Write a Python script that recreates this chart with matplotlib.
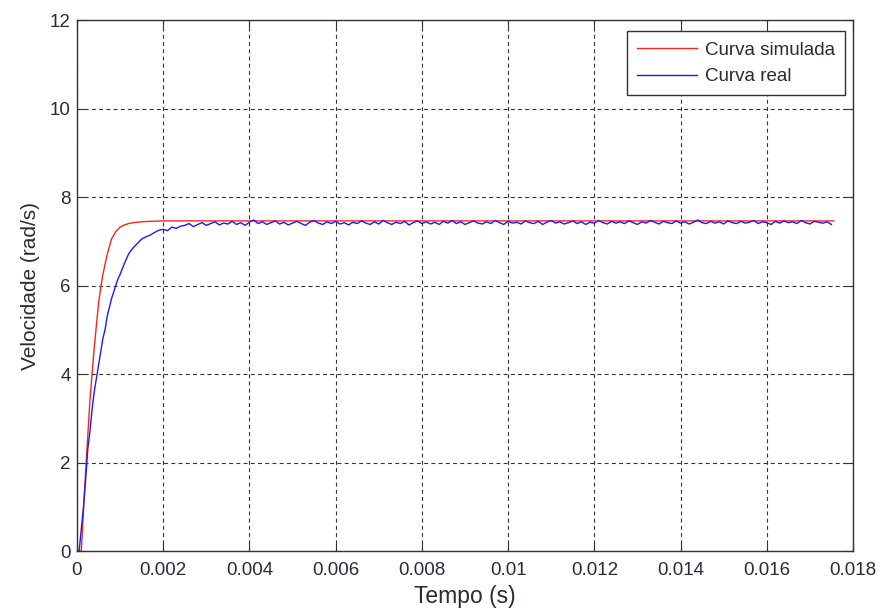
import numpy as np
import matplotlib
matplotlib.use("Agg")
import matplotlib.pyplot as plt

plt.rcParams["font.family"] = ["Liberation Sans", "DejaVu Sans"]

# Curva simulada
t_sim = [0, 0.0001, 0.00015, 0.0002, 0.00025, 0.0003, 0.00035, 0.0004, 0.00045,
         0.0005, 0.00055, 0.0006, 0.0007, 0.0008, 0.0009, 0.001, 0.0011, 0.0012,
         0.0013, 0.0014, 0.0015, 0.0017, 0.002, 0.0025, 0.01755]
v_sim = [0, 0, 0.9, 1.8, 2.6, 3.4, 4.0, 4.6, 5.1,
         5.6, 5.95, 6.25, 6.7, 7.05, 7.22, 7.32, 7.37, 7.40,
         7.42, 7.43, 7.44, 7.45, 7.46, 7.46, 7.46]

# Curva real - subida
t_real_subida = [0, 0.00005, 0.0001, 0.00015, 0.0002, 0.00025, 0.0003, 0.00035, 0.0004,
                 0.00045, 0.0005, 0.00055, 0.0006, 0.00065, 0.0007, 0.00075, 0.0008,
                 0.00085, 0.0009, 0.00095, 0.001, 0.0011, 0.0012, 0.0013, 0.0014,
                 0.0015, 0.0016, 0.0017, 0.0018, 0.0019, 0.002, 0.0021, 0.0022,
                 0.0023, 0.0024]
v_real_subida = [0, 0, 0.5, 1.0, 1.6, 2.3, 2.7, 3.2, 3.6,
                 3.9, 4.2, 4.5, 4.8, 5.0, 5.3, 5.5, 5.7,
                 5.85, 6.0, 6.15, 6.25, 6.5, 6.72, 6.85, 6.95,
                 7.05, 7.1, 7.14, 7.2, 7.25, 7.27, 7.24, 7.32,
                 7.29, 7.34]

# Curva real - regime permanente (amostras a cada 0.0001 s a partir de 0.0025 s)
t0_regime = 0.0025
dt_regime = 0.0001
v_real_regime = [
    7.36, 7.40, 7.33, 7.38, 7.42, 7.36, 7.40, 7.44, 7.37, 7.41,
    7.39, 7.45, 7.38, 7.42, 7.36, 7.43, 7.48, 7.40, 7.44, 7.38,
    7.42, 7.46, 7.39, 7.43, 7.37, 7.41, 7.45, 7.40, 7.36, 7.43,
    7.47, 7.41, 7.38, 7.44, 7.40, 7.45, 7.39, 7.42, 7.37, 7.43,
    7.40, 7.46, 7.41, 7.38, 7.44, 7.39, 7.47, 7.42, 7.38, 7.43,
    7.40, 7.45, 7.37, 7.42, 7.46, 7.40, 7.44, 7.39, 7.43, 7.38,
    7.45, 7.41, 7.47, 7.40, 7.44, 7.38, 7.42, 7.46, 7.41, 7.39,
    7.44, 7.40, 7.47, 7.42, 7.38, 7.45, 7.41, 7.43, 7.39, 7.46,
    7.42, 7.40, 7.45, 7.38, 7.43, 7.47, 7.41, 7.44, 7.39, 7.42,
    7.46, 7.40, 7.44, 7.38, 7.43, 7.41, 7.47, 7.42, 7.39, 7.45,
    7.41, 7.44, 7.40, 7.46, 7.42, 7.38, 7.44, 7.41, 7.47, 7.43,
    7.39, 7.45, 7.42, 7.40, 7.46, 7.41, 7.44, 7.39, 7.43, 7.48,
    7.42, 7.40, 7.45, 7.41, 7.44, 7.39, 7.46, 7.42, 7.40, 7.45,
    7.41, 7.43, 7.47, 7.40, 7.44, 7.42, 7.38, 7.45, 7.41, 7.46,
    7.42, 7.44, 7.40, 7.47, 7.42, 7.39, 7.45, 7.43, 7.41, 7.44,
    7.38]

x_ticks = [0, 0.002, 0.004, 0.006, 0.008, 0.01, 0.012, 0.014, 0.016, 0.018]
y_ticks = [0, 2, 4, 6, 8, 10, 12]

t_real_regime = t0_regime + dt_regime * np.arange(len(v_real_regime))
t_real = np.concatenate([t_real_subida, t_real_regime])
v_real = np.concatenate([v_real_subida, v_real_regime])

fig = plt.figure(figsize=(8.81, 6.10), dpi=100)
ax = fig.add_axes([0.0874, 0.0967, 0.8808, 0.8705])

ax.plot(t_sim, v_sim, color="#ff2020", lw=1.0, label="Curva simulada")
ax.plot(t_real, v_real, color="#1a1aff", lw=1.0, label="Curva real")

ax.set_xlim(0, 0.018)
ax.set_ylim(0, 12)
ax.set_xticks(x_ticks)
ax.set_xticklabels(["%g" % x for x in x_ticks])
ax.set_yticks(y_ticks)
ax.tick_params(direction="in", top=True, right=True, labelsize=13.5, length=6,
               colors="#333333", labelcolor="#2a2a3a", pad=4.5)
ax.tick_params(axis="x", pad=8)
ax.grid(True, color="#333333", linestyle=(0, (3.5, 3)), lw=0.8)
for s in ax.spines.values():
    s.set_color("#333333")
    s.set_linewidth(1.0)

ax.set_xlabel("Tempo (s)", fontsize=16.5, labelpad=4, color="#2a2a3a")
ax.set_ylabel("Velocidade (rad/s)", fontsize=15, labelpad=7, color="#2a2a3a")

leg = ax.legend(loc="upper right", fontsize=13.5, fancybox=False, framealpha=1,
                edgecolor="#333333", handlelength=3.2, handletextpad=0.4,
                borderpad=0.55, labelspacing=0.5, borderaxespad=0,
                bbox_to_anchor=(0.9897, 0.979))
leg.get_frame().set_linewidth(1.0)
for txt in leg.get_texts():
    txt.set_color("#2a2a3a")

fig.savefig("out.png", dpi=100)
